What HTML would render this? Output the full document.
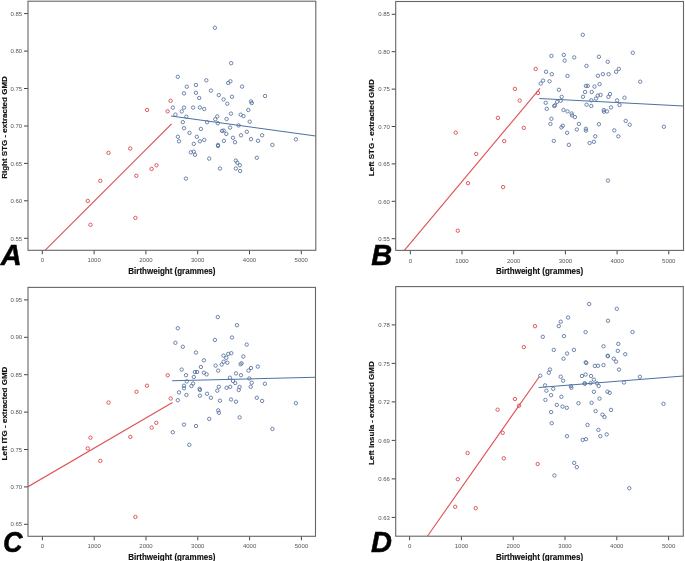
<!DOCTYPE html>
<html><head><meta charset="utf-8"><title>Birthweight vs GMD</title>
<style>
html,body{margin:0;padding:0;background:#fff;}
body{width:685px;height:561px;overflow:hidden;}
svg{display:block;will-change:transform;}
text{font-family:"Liberation Sans",sans-serif;}
.tl{font-size:6px;fill:#555;}
.ti{font-size:8px;font-weight:bold;fill:#111;stroke:#111;stroke-width:0.15;}
.lt{font-size:29px;font-weight:bold;font-style:italic;fill:#000;stroke:#000;stroke-width:0.5;}
.fr{fill:none;stroke:#666;stroke-width:1.1;}
.tk{stroke:#444;stroke-width:1;}
.rp{fill:none;stroke:#d94a4e;stroke-width:0.9;}
.bp{fill:none;stroke:#55709e;stroke-width:0.85;}
.rl{stroke:#df5052;stroke-width:1.1;fill:none;}
.bl{stroke:#4c72a2;stroke-width:1.05;fill:none;}
</style></head><body>
<svg width="685" height="561" viewBox="0 0 685 561">
<rect width="685" height="561" fill="#fff"/>

<g id="pA">
<clipPath id="cA"><rect x="28.0" y="1.2" width="287.8" height="249.10000000000002"/></clipPath>
<line class="tk" x1="24.0" y1="13.6" x2="28.0" y2="13.6"/>
<text class="tl" x="22.2" y="15.8" text-anchor="end">0.85</text>
<line class="tk" x1="24.0" y1="51.1" x2="28.0" y2="51.1"/>
<text class="tl" x="22.2" y="53.2" text-anchor="end">0.80</text>
<line class="tk" x1="24.0" y1="88.5" x2="28.0" y2="88.5"/>
<text class="tl" x="22.2" y="90.7" text-anchor="end">0.75</text>
<line class="tk" x1="24.0" y1="126.0" x2="28.0" y2="126.0"/>
<text class="tl" x="22.2" y="128.1" text-anchor="end">0.70</text>
<line class="tk" x1="24.0" y1="163.4" x2="28.0" y2="163.4"/>
<text class="tl" x="22.2" y="165.6" text-anchor="end">0.65</text>
<line class="tk" x1="24.0" y1="200.8" x2="28.0" y2="200.8"/>
<text class="tl" x="22.2" y="203.0" text-anchor="end">0.60</text>
<line class="tk" x1="24.0" y1="238.3" x2="28.0" y2="238.3"/>
<text class="tl" x="22.2" y="240.5" text-anchor="end">0.55</text>
<line class="tk" x1="42.3" y1="250.3" x2="42.3" y2="254.3"/>
<text class="tl" x="42.3" y="262.4" text-anchor="middle">0</text>
<line class="tk" x1="94.1" y1="250.3" x2="94.1" y2="254.3"/>
<text class="tl" x="94.1" y="262.4" text-anchor="middle">1000</text>
<line class="tk" x1="145.9" y1="250.3" x2="145.9" y2="254.3"/>
<text class="tl" x="145.9" y="262.4" text-anchor="middle">2000</text>
<line class="tk" x1="197.7" y1="250.3" x2="197.7" y2="254.3"/>
<text class="tl" x="197.7" y="262.4" text-anchor="middle">3000</text>
<line class="tk" x1="249.5" y1="250.3" x2="249.5" y2="254.3"/>
<text class="tl" x="249.5" y="262.4" text-anchor="middle">4000</text>
<line class="tk" x1="301.3" y1="250.3" x2="301.3" y2="254.3"/>
<text class="tl" x="301.3" y="262.4" text-anchor="middle">5000</text>
<g clip-path="url(#cA)">
<line class="rl" x1="45.0" y1="250.3" x2="171.6" y2="123.8"/>
<line class="bl" x1="171.0" y1="116.1" x2="315.8" y2="136.1"/>
<circle class="rp" cx="147.1" cy="109.9" r="1.7"/>
<circle class="rp" cx="170.6" cy="100.8" r="1.7"/>
<circle class="rp" cx="167.6" cy="111.3" r="1.7"/>
<circle class="rp" cx="108.5" cy="152.8" r="1.7"/>
<circle class="rp" cx="130.2" cy="148.5" r="1.7"/>
<circle class="rp" cx="100.3" cy="180.8" r="1.7"/>
<circle class="rp" cx="87.8" cy="200.9" r="1.7"/>
<circle class="rp" cx="90.5" cy="224.8" r="1.7"/>
<circle class="rp" cx="136.3" cy="175.8" r="1.7"/>
<circle class="rp" cx="151.6" cy="168.9" r="1.7"/>
<circle class="rp" cx="156.5" cy="165.3" r="1.7"/>
<circle class="rp" cx="135.4" cy="217.9" r="1.7"/>
<circle class="bp" cx="214.9" cy="27.8" r="1.7"/>
<circle class="bp" cx="231.2" cy="63.2" r="1.7"/>
<circle class="bp" cx="177.8" cy="76.8" r="1.7"/>
<circle class="bp" cx="206.3" cy="80.3" r="1.7"/>
<circle class="bp" cx="230.4" cy="81.3" r="1.7"/>
<circle class="bp" cx="228.2" cy="83.0" r="1.7"/>
<circle class="bp" cx="186.8" cy="86.7" r="1.7"/>
<circle class="bp" cx="195.9" cy="85.0" r="1.7"/>
<circle class="bp" cx="210.9" cy="90.6" r="1.7"/>
<circle class="bp" cx="184.0" cy="93.4" r="1.7"/>
<circle class="bp" cx="195.9" cy="92.8" r="1.7"/>
<circle class="bp" cx="218.8" cy="95.1" r="1.7"/>
<circle class="bp" cx="232.0" cy="96.8" r="1.7"/>
<circle class="bp" cx="199.2" cy="98.0" r="1.7"/>
<circle class="bp" cx="223.6" cy="99.4" r="1.7"/>
<circle class="bp" cx="242.1" cy="86.6" r="1.7"/>
<circle class="bp" cx="265.1" cy="96.0" r="1.7"/>
<circle class="bp" cx="251.0" cy="101.4" r="1.7"/>
<circle class="bp" cx="251.8" cy="103.1" r="1.7"/>
<circle class="bp" cx="227.3" cy="103.7" r="1.7"/>
<circle class="bp" cx="172.8" cy="107.6" r="1.7"/>
<circle class="bp" cx="184.0" cy="107.6" r="1.7"/>
<circle class="bp" cx="181.7" cy="111.4" r="1.7"/>
<circle class="bp" cx="193.1" cy="107.6" r="1.7"/>
<circle class="bp" cx="199.9" cy="107.5" r="1.7"/>
<circle class="bp" cx="204.2" cy="109.0" r="1.7"/>
<circle class="bp" cx="230.9" cy="113.6" r="1.7"/>
<circle class="bp" cx="175.4" cy="114.6" r="1.7"/>
<circle class="bp" cx="186.3" cy="116.7" r="1.7"/>
<circle class="bp" cx="217.3" cy="116.4" r="1.7"/>
<circle class="bp" cx="215.3" cy="119.2" r="1.7"/>
<circle class="bp" cx="226.6" cy="119.0" r="1.7"/>
<circle class="bp" cx="182.8" cy="122.1" r="1.7"/>
<circle class="bp" cx="207.1" cy="122.2" r="1.7"/>
<circle class="bp" cx="217.8" cy="123.2" r="1.7"/>
<circle class="bp" cx="238.6" cy="125.4" r="1.7"/>
<circle class="bp" cx="240.7" cy="114.7" r="1.7"/>
<circle class="bp" cx="243.5" cy="116.1" r="1.7"/>
<circle class="bp" cx="248.3" cy="110.0" r="1.7"/>
<circle class="bp" cx="249.7" cy="121.7" r="1.7"/>
<circle class="bp" cx="184.0" cy="128.2" r="1.7"/>
<circle class="bp" cx="200.9" cy="128.9" r="1.7"/>
<circle class="bp" cx="230.1" cy="127.6" r="1.7"/>
<circle class="bp" cx="222.0" cy="130.9" r="1.7"/>
<circle class="bp" cx="223.7" cy="130.6" r="1.7"/>
<circle class="bp" cx="226.3" cy="133.9" r="1.7"/>
<circle class="bp" cx="189.5" cy="132.9" r="1.7"/>
<circle class="bp" cx="177.9" cy="136.8" r="1.7"/>
<circle class="bp" cx="179.0" cy="141.3" r="1.7"/>
<circle class="bp" cx="196.8" cy="136.8" r="1.7"/>
<circle class="bp" cx="199.9" cy="141.3" r="1.7"/>
<circle class="bp" cx="204.2" cy="139.9" r="1.7"/>
<circle class="bp" cx="193.8" cy="143.9" r="1.7"/>
<circle class="bp" cx="223.9" cy="140.9" r="1.7"/>
<circle class="bp" cx="233.0" cy="137.8" r="1.7"/>
<circle class="bp" cx="235.0" cy="142.2" r="1.7"/>
<circle class="bp" cx="218.0" cy="144.9" r="1.7"/>
<circle class="bp" cx="218.0" cy="146.0" r="1.7"/>
<circle class="bp" cx="241.0" cy="135.3" r="1.7"/>
<circle class="bp" cx="246.8" cy="131.8" r="1.7"/>
<circle class="bp" cx="251.0" cy="139.2" r="1.7"/>
<circle class="bp" cx="258.0" cy="140.8" r="1.7"/>
<circle class="bp" cx="262.1" cy="135.3" r="1.7"/>
<circle class="bp" cx="272.4" cy="144.9" r="1.7"/>
<circle class="bp" cx="295.9" cy="139.3" r="1.7"/>
<circle class="bp" cx="190.8" cy="152.3" r="1.7"/>
<circle class="bp" cx="193.8" cy="151.7" r="1.7"/>
<circle class="bp" cx="195.0" cy="154.8" r="1.7"/>
<circle class="bp" cx="209.2" cy="158.6" r="1.7"/>
<circle class="bp" cx="256.8" cy="157.8" r="1.7"/>
<circle class="bp" cx="235.8" cy="160.6" r="1.7"/>
<circle class="bp" cx="237.3" cy="162.7" r="1.7"/>
<circle class="bp" cx="239.8" cy="165.3" r="1.7"/>
<circle class="bp" cx="219.9" cy="168.5" r="1.7"/>
<circle class="bp" cx="235.8" cy="168.5" r="1.7"/>
<circle class="bp" cx="240.1" cy="171.0" r="1.7"/>
<circle class="bp" cx="185.9" cy="178.6" r="1.7"/>
</g>
<rect class="fr" x="28.0" y="1.2" width="287.8" height="249.1"/>
<text class="ti" x="128.3" y="273.8" style="font-size:8.8px" textLength="87.2" lengthAdjust="spacingAndGlyphs">Birthweight (grammes)</text>
<text class="ti" transform="translate(6.7,127.5) rotate(-90)" x="0" y="0" text-anchor="middle">Right STG - extracted GMD</text>
<text class="lt" x="0.8" y="265.0">A</text>
</g>
<g id="pB">
<clipPath id="cB"><rect x="395.7" y="1.5" width="287.8" height="248.9"/></clipPath>
<line class="tk" x1="391.7" y1="14.3" x2="395.7" y2="14.3"/>
<text class="tl" x="389.9" y="16.4" text-anchor="end">0.85</text>
<line class="tk" x1="391.7" y1="51.7" x2="395.7" y2="51.7"/>
<text class="tl" x="389.9" y="53.9" text-anchor="end">0.80</text>
<line class="tk" x1="391.7" y1="89.1" x2="395.7" y2="89.1"/>
<text class="tl" x="389.9" y="91.2" text-anchor="end">0.75</text>
<line class="tk" x1="391.7" y1="126.5" x2="395.7" y2="126.5"/>
<text class="tl" x="389.9" y="128.6" text-anchor="end">0.70</text>
<line class="tk" x1="391.7" y1="163.9" x2="395.7" y2="163.9"/>
<text class="tl" x="389.9" y="166.1" text-anchor="end">0.65</text>
<line class="tk" x1="391.7" y1="201.3" x2="395.7" y2="201.3"/>
<text class="tl" x="389.9" y="203.5" text-anchor="end">0.60</text>
<line class="tk" x1="391.7" y1="238.7" x2="395.7" y2="238.7"/>
<text class="tl" x="389.9" y="240.8" text-anchor="end">0.55</text>
<line class="tk" x1="410.3" y1="250.4" x2="410.3" y2="254.4"/>
<text class="tl" x="410.3" y="262.5" text-anchor="middle">0</text>
<line class="tk" x1="462.0" y1="250.4" x2="462.0" y2="254.4"/>
<text class="tl" x="462.0" y="262.5" text-anchor="middle">1000</text>
<line class="tk" x1="513.7" y1="250.4" x2="513.7" y2="254.4"/>
<text class="tl" x="513.7" y="262.5" text-anchor="middle">2000</text>
<line class="tk" x1="565.4" y1="250.4" x2="565.4" y2="254.4"/>
<text class="tl" x="565.4" y="262.5" text-anchor="middle">3000</text>
<line class="tk" x1="617.1" y1="250.4" x2="617.1" y2="254.4"/>
<text class="tl" x="617.1" y="262.5" text-anchor="middle">4000</text>
<line class="tk" x1="668.8" y1="250.4" x2="668.8" y2="254.4"/>
<text class="tl" x="668.8" y="262.5" text-anchor="middle">5000</text>
<g clip-path="url(#cB)">
<line class="rl" x1="404.4" y1="250.4" x2="540.0" y2="88.3"/>
<line class="bl" x1="539.3" y1="98.5" x2="683.5" y2="105.9"/>
<circle class="rp" cx="535.7" cy="68.9" r="1.7"/>
<circle class="rp" cx="514.9" cy="88.9" r="1.7"/>
<circle class="rp" cx="519.7" cy="100.5" r="1.7"/>
<circle class="rp" cx="538.0" cy="93.0" r="1.7"/>
<circle class="rp" cx="497.9" cy="117.9" r="1.7"/>
<circle class="rp" cx="523.8" cy="127.9" r="1.7"/>
<circle class="rp" cx="455.7" cy="132.7" r="1.7"/>
<circle class="rp" cx="504.2" cy="141.1" r="1.7"/>
<circle class="rp" cx="476.2" cy="153.9" r="1.7"/>
<circle class="rp" cx="468.0" cy="183.2" r="1.7"/>
<circle class="rp" cx="503.1" cy="187.1" r="1.7"/>
<circle class="rp" cx="457.8" cy="230.7" r="1.7"/>
<circle class="bp" cx="582.8" cy="34.8" r="1.7"/>
<circle class="bp" cx="551.4" cy="55.9" r="1.7"/>
<circle class="bp" cx="563.8" cy="54.9" r="1.7"/>
<circle class="bp" cx="564.7" cy="60.6" r="1.7"/>
<circle class="bp" cx="574.2" cy="57.4" r="1.7"/>
<circle class="bp" cx="598.9" cy="56.8" r="1.7"/>
<circle class="bp" cx="607.7" cy="61.8" r="1.7"/>
<circle class="bp" cx="586.5" cy="65.9" r="1.7"/>
<circle class="bp" cx="546.0" cy="71.8" r="1.7"/>
<circle class="bp" cx="551.8" cy="74.2" r="1.7"/>
<circle class="bp" cx="567.5" cy="75.9" r="1.7"/>
<circle class="bp" cx="543.1" cy="80.6" r="1.7"/>
<circle class="bp" cx="540.7" cy="83.5" r="1.7"/>
<circle class="bp" cx="549.5" cy="81.3" r="1.7"/>
<circle class="bp" cx="558.9" cy="89.8" r="1.7"/>
<circle class="bp" cx="561.7" cy="96.8" r="1.7"/>
<circle class="bp" cx="597.9" cy="75.8" r="1.7"/>
<circle class="bp" cx="602.9" cy="74.2" r="1.7"/>
<circle class="bp" cx="608.6" cy="74.2" r="1.7"/>
<circle class="bp" cx="585.9" cy="85.9" r="1.7"/>
<circle class="bp" cx="587.8" cy="85.9" r="1.7"/>
<circle class="bp" cx="594.5" cy="86.6" r="1.7"/>
<circle class="bp" cx="599.6" cy="84.2" r="1.7"/>
<circle class="bp" cx="585.1" cy="92.0" r="1.7"/>
<circle class="bp" cx="591.7" cy="92.0" r="1.7"/>
<circle class="bp" cx="583.0" cy="96.8" r="1.7"/>
<circle class="bp" cx="597.8" cy="95.6" r="1.7"/>
<circle class="bp" cx="600.6" cy="94.9" r="1.7"/>
<circle class="bp" cx="610.0" cy="94.1" r="1.7"/>
<circle class="bp" cx="608.4" cy="96.8" r="1.7"/>
<circle class="bp" cx="596.0" cy="98.6" r="1.7"/>
<circle class="bp" cx="591.3" cy="100.3" r="1.7"/>
<circle class="bp" cx="632.8" cy="52.8" r="1.7"/>
<circle class="bp" cx="618.8" cy="68.9" r="1.7"/>
<circle class="bp" cx="616.1" cy="71.8" r="1.7"/>
<circle class="bp" cx="640.2" cy="81.7" r="1.7"/>
<circle class="bp" cx="624.5" cy="97.7" r="1.7"/>
<circle class="bp" cx="617.1" cy="100.4" r="1.7"/>
<circle class="bp" cx="619.5" cy="105.0" r="1.7"/>
<circle class="bp" cx="611.0" cy="107.4" r="1.7"/>
<circle class="bp" cx="545.7" cy="102.8" r="1.7"/>
<circle class="bp" cx="557.1" cy="101.8" r="1.7"/>
<circle class="bp" cx="560.7" cy="100.7" r="1.7"/>
<circle class="bp" cx="554.2" cy="106.0" r="1.7"/>
<circle class="bp" cx="555.0" cy="105.3" r="1.7"/>
<circle class="bp" cx="546.8" cy="108.8" r="1.7"/>
<circle class="bp" cx="586.6" cy="104.7" r="1.7"/>
<circle class="bp" cx="591.3" cy="106.0" r="1.7"/>
<circle class="bp" cx="563.5" cy="110.0" r="1.7"/>
<circle class="bp" cx="567.5" cy="111.4" r="1.7"/>
<circle class="bp" cx="571.6" cy="113.5" r="1.7"/>
<circle class="bp" cx="572.1" cy="115.4" r="1.7"/>
<circle class="bp" cx="574.9" cy="117.1" r="1.7"/>
<circle class="bp" cx="603.8" cy="110.0" r="1.7"/>
<circle class="bp" cx="604.0" cy="111.7" r="1.7"/>
<circle class="bp" cx="607.0" cy="111.4" r="1.7"/>
<circle class="bp" cx="551.4" cy="118.8" r="1.7"/>
<circle class="bp" cx="550.4" cy="123.9" r="1.7"/>
<circle class="bp" cx="561.4" cy="127.4" r="1.7"/>
<circle class="bp" cx="562.8" cy="125.7" r="1.7"/>
<circle class="bp" cx="578.9" cy="123.9" r="1.7"/>
<circle class="bp" cx="576.8" cy="129.5" r="1.7"/>
<circle class="bp" cx="585.9" cy="128.8" r="1.7"/>
<circle class="bp" cx="585.9" cy="130.6" r="1.7"/>
<circle class="bp" cx="598.9" cy="124.2" r="1.7"/>
<circle class="bp" cx="567.1" cy="132.8" r="1.7"/>
<circle class="bp" cx="595.2" cy="136.3" r="1.7"/>
<circle class="bp" cx="593.9" cy="141.8" r="1.7"/>
<circle class="bp" cx="589.6" cy="143.0" r="1.7"/>
<circle class="bp" cx="553.8" cy="140.9" r="1.7"/>
<circle class="bp" cx="568.8" cy="144.9" r="1.7"/>
<circle class="bp" cx="625.7" cy="120.9" r="1.7"/>
<circle class="bp" cx="629.7" cy="124.7" r="1.7"/>
<circle class="bp" cx="614.3" cy="130.4" r="1.7"/>
<circle class="bp" cx="618.3" cy="136.3" r="1.7"/>
<circle class="bp" cx="663.9" cy="126.8" r="1.7"/>
<circle class="bp" cx="608.0" cy="180.5" r="1.7"/>
</g>
<rect class="fr" x="395.7" y="1.5" width="287.8" height="248.9"/>
<text class="ti" x="496.0" y="273.9" style="font-size:8.8px" textLength="87.2" lengthAdjust="spacingAndGlyphs">Birthweight (grammes)</text>
<text class="ti" transform="translate(374.4,127.7) rotate(-90)" x="0" y="0" text-anchor="middle">Left STG - extracted GMD</text>
<text class="lt" x="371.2" y="264.8">B</text>
</g>
<g id="pC">
<clipPath id="cC"><rect x="28.0" y="287.4" width="287.5" height="248.89999999999998"/></clipPath>
<line class="tk" x1="24.0" y1="299.9" x2="28.0" y2="299.9"/>
<text class="tl" x="22.2" y="302.0" text-anchor="end">0.95</text>
<line class="tk" x1="24.0" y1="337.3" x2="28.0" y2="337.3"/>
<text class="tl" x="22.2" y="339.4" text-anchor="end">0.90</text>
<line class="tk" x1="24.0" y1="374.7" x2="28.0" y2="374.7"/>
<text class="tl" x="22.2" y="376.8" text-anchor="end">0.85</text>
<line class="tk" x1="24.0" y1="412.1" x2="28.0" y2="412.1"/>
<text class="tl" x="22.2" y="414.2" text-anchor="end">0.80</text>
<line class="tk" x1="24.0" y1="449.5" x2="28.0" y2="449.5"/>
<text class="tl" x="22.2" y="451.6" text-anchor="end">0.75</text>
<line class="tk" x1="24.0" y1="486.9" x2="28.0" y2="486.9"/>
<text class="tl" x="22.2" y="489.0" text-anchor="end">0.70</text>
<line class="tk" x1="24.0" y1="524.3" x2="28.0" y2="524.3"/>
<text class="tl" x="22.2" y="526.4" text-anchor="end">0.65</text>
<line class="tk" x1="42.4" y1="536.3" x2="42.4" y2="540.3"/>
<text class="tl" x="42.4" y="548.2" text-anchor="middle">0</text>
<line class="tk" x1="94.2" y1="536.3" x2="94.2" y2="540.3"/>
<text class="tl" x="94.2" y="548.2" text-anchor="middle">1000</text>
<line class="tk" x1="146.0" y1="536.3" x2="146.0" y2="540.3"/>
<text class="tl" x="146.0" y="548.2" text-anchor="middle">2000</text>
<line class="tk" x1="197.8" y1="536.3" x2="197.8" y2="540.3"/>
<text class="tl" x="197.8" y="548.2" text-anchor="middle">3000</text>
<line class="tk" x1="249.6" y1="536.3" x2="249.6" y2="540.3"/>
<text class="tl" x="249.6" y="548.2" text-anchor="middle">4000</text>
<line class="tk" x1="301.4" y1="536.3" x2="301.4" y2="540.3"/>
<text class="tl" x="301.4" y="548.2" text-anchor="middle">5000</text>
<g clip-path="url(#cC)">
<line class="rl" x1="28.0" y1="486.7" x2="172.5" y2="402.4"/>
<line class="bl" x1="172.1" y1="380.7" x2="315.5" y2="377.2"/>
<circle class="rp" cx="167.7" cy="375.3" r="1.7"/>
<circle class="rp" cx="147.0" cy="385.7" r="1.7"/>
<circle class="rp" cx="136.5" cy="391.8" r="1.7"/>
<circle class="rp" cx="108.5" cy="402.6" r="1.7"/>
<circle class="rp" cx="170.7" cy="398.5" r="1.7"/>
<circle class="rp" cx="90.5" cy="437.7" r="1.7"/>
<circle class="rp" cx="87.8" cy="448.4" r="1.7"/>
<circle class="rp" cx="100.3" cy="460.9" r="1.7"/>
<circle class="rp" cx="130.3" cy="436.9" r="1.7"/>
<circle class="rp" cx="151.7" cy="427.6" r="1.7"/>
<circle class="rp" cx="156.3" cy="422.8" r="1.7"/>
<circle class="rp" cx="135.4" cy="517.0" r="1.7"/>
<circle class="bp" cx="217.8" cy="317.1" r="1.7"/>
<circle class="bp" cx="237.0" cy="325.2" r="1.7"/>
<circle class="bp" cx="177.8" cy="328.2" r="1.7"/>
<circle class="bp" cx="232.0" cy="337.5" r="1.7"/>
<circle class="bp" cx="214.9" cy="339.9" r="1.7"/>
<circle class="bp" cx="175.4" cy="342.8" r="1.7"/>
<circle class="bp" cx="182.8" cy="346.8" r="1.7"/>
<circle class="bp" cx="195.9" cy="352.5" r="1.7"/>
<circle class="bp" cx="223.5" cy="355.6" r="1.7"/>
<circle class="bp" cx="228.2" cy="353.9" r="1.7"/>
<circle class="bp" cx="231.3" cy="353.2" r="1.7"/>
<circle class="bp" cx="226.3" cy="357.8" r="1.7"/>
<circle class="bp" cx="203.9" cy="360.3" r="1.7"/>
<circle class="bp" cx="223.7" cy="361.7" r="1.7"/>
<circle class="bp" cx="227.3" cy="362.7" r="1.7"/>
<circle class="bp" cx="221.7" cy="364.5" r="1.7"/>
<circle class="bp" cx="200.9" cy="367.0" r="1.7"/>
<circle class="bp" cx="215.6" cy="365.6" r="1.7"/>
<circle class="bp" cx="218.2" cy="370.6" r="1.7"/>
<circle class="bp" cx="181.7" cy="369.6" r="1.7"/>
<circle class="bp" cx="194.9" cy="372.0" r="1.7"/>
<circle class="bp" cx="197.1" cy="372.0" r="1.7"/>
<circle class="bp" cx="203.9" cy="372.7" r="1.7"/>
<circle class="bp" cx="206.6" cy="374.4" r="1.7"/>
<circle class="bp" cx="186.0" cy="375.2" r="1.7"/>
<circle class="bp" cx="193.8" cy="377.0" r="1.7"/>
<circle class="bp" cx="236.0" cy="373.4" r="1.7"/>
<circle class="bp" cx="229.9" cy="377.7" r="1.7"/>
<circle class="bp" cx="246.7" cy="344.6" r="1.7"/>
<circle class="bp" cx="243.3" cy="356.5" r="1.7"/>
<circle class="bp" cx="240.6" cy="364.3" r="1.7"/>
<circle class="bp" cx="241.6" cy="363.3" r="1.7"/>
<circle class="bp" cx="251.0" cy="368.0" r="1.7"/>
<circle class="bp" cx="248.5" cy="370.6" r="1.7"/>
<circle class="bp" cx="257.8" cy="366.6" r="1.7"/>
<circle class="bp" cx="241.0" cy="375.2" r="1.7"/>
<circle class="bp" cx="249.3" cy="378.5" r="1.7"/>
<circle class="bp" cx="233.0" cy="381.0" r="1.7"/>
<circle class="bp" cx="235.2" cy="383.1" r="1.7"/>
<circle class="bp" cx="186.8" cy="381.4" r="1.7"/>
<circle class="bp" cx="193.1" cy="383.5" r="1.7"/>
<circle class="bp" cx="191.4" cy="386.0" r="1.7"/>
<circle class="bp" cx="184.0" cy="385.7" r="1.7"/>
<circle class="bp" cx="184.0" cy="388.3" r="1.7"/>
<circle class="bp" cx="179.0" cy="392.4" r="1.7"/>
<circle class="bp" cx="199.6" cy="388.8" r="1.7"/>
<circle class="bp" cx="199.9" cy="390.0" r="1.7"/>
<circle class="bp" cx="218.8" cy="386.8" r="1.7"/>
<circle class="bp" cx="217.3" cy="390.7" r="1.7"/>
<circle class="bp" cx="226.6" cy="387.8" r="1.7"/>
<circle class="bp" cx="230.2" cy="386.8" r="1.7"/>
<circle class="bp" cx="239.5" cy="387.0" r="1.7"/>
<circle class="bp" cx="238.7" cy="390.0" r="1.7"/>
<circle class="bp" cx="186.4" cy="395.0" r="1.7"/>
<circle class="bp" cx="199.9" cy="395.7" r="1.7"/>
<circle class="bp" cx="207.1" cy="393.8" r="1.7"/>
<circle class="bp" cx="210.9" cy="397.8" r="1.7"/>
<circle class="bp" cx="177.8" cy="400.2" r="1.7"/>
<circle class="bp" cx="219.9" cy="400.7" r="1.7"/>
<circle class="bp" cx="231.0" cy="399.5" r="1.7"/>
<circle class="bp" cx="236.0" cy="401.7" r="1.7"/>
<circle class="bp" cx="218.2" cy="410.4" r="1.7"/>
<circle class="bp" cx="218.9" cy="412.8" r="1.7"/>
<circle class="bp" cx="239.6" cy="417.4" r="1.7"/>
<circle class="bp" cx="209.2" cy="418.9" r="1.7"/>
<circle class="bp" cx="184.0" cy="424.6" r="1.7"/>
<circle class="bp" cx="196.0" cy="426.0" r="1.7"/>
<circle class="bp" cx="172.8" cy="432.2" r="1.7"/>
<circle class="bp" cx="189.3" cy="444.8" r="1.7"/>
<circle class="bp" cx="251.7" cy="382.8" r="1.7"/>
<circle class="bp" cx="250.7" cy="386.8" r="1.7"/>
<circle class="bp" cx="264.9" cy="383.8" r="1.7"/>
<circle class="bp" cx="256.8" cy="397.8" r="1.7"/>
<circle class="bp" cx="262.1" cy="400.9" r="1.7"/>
<circle class="bp" cx="295.9" cy="403.2" r="1.7"/>
<circle class="bp" cx="272.4" cy="428.9" r="1.7"/>
</g>
<rect class="fr" x="28.0" y="287.4" width="287.5" height="248.9"/>
<text class="ti" x="128.2" y="559.8" style="font-size:8.8px" textLength="87.2" lengthAdjust="spacingAndGlyphs">Birthweight (grammes)</text>
<text class="ti" transform="translate(6.7,413.5) rotate(-90)" x="0" y="0" text-anchor="middle">Left ITG - extracted GMD</text>
<text class="lt" transform="translate(3.0,551.9) scale(0.9,1)" x="0" y="0" style="font-size:30px">C</text>
</g>
<g id="pD">
<clipPath id="cD"><rect x="395.7" y="286.6" width="287.59999999999997" height="249.60000000000002"/></clipPath>
<line class="tk" x1="391.7" y1="324.9" x2="395.7" y2="324.9"/>
<text class="tl" x="389.9" y="327.0" text-anchor="end">0.78</text>
<line class="tk" x1="391.7" y1="363.4" x2="395.7" y2="363.4"/>
<text class="tl" x="389.9" y="365.5" text-anchor="end">0.75</text>
<line class="tk" x1="391.7" y1="401.9" x2="395.7" y2="401.9"/>
<text class="tl" x="389.9" y="404.0" text-anchor="end">0.72</text>
<line class="tk" x1="391.7" y1="440.4" x2="395.7" y2="440.4"/>
<text class="tl" x="389.9" y="442.5" text-anchor="end">0.69</text>
<line class="tk" x1="391.7" y1="478.9" x2="395.7" y2="478.9"/>
<text class="tl" x="389.9" y="481.0" text-anchor="end">0.66</text>
<line class="tk" x1="391.7" y1="517.4" x2="395.7" y2="517.4"/>
<text class="tl" x="389.9" y="519.5" text-anchor="end">0.63</text>
<line class="tk" x1="409.6" y1="536.2" x2="409.6" y2="540.2"/>
<text class="tl" x="409.6" y="547.8" text-anchor="middle">0</text>
<line class="tk" x1="461.4" y1="536.2" x2="461.4" y2="540.2"/>
<text class="tl" x="461.4" y="547.8" text-anchor="middle">1000</text>
<line class="tk" x1="513.2" y1="536.2" x2="513.2" y2="540.2"/>
<text class="tl" x="513.2" y="547.8" text-anchor="middle">2000</text>
<line class="tk" x1="565.0" y1="536.2" x2="565.0" y2="540.2"/>
<text class="tl" x="565.0" y="547.8" text-anchor="middle">3000</text>
<line class="tk" x1="616.8" y1="536.2" x2="616.8" y2="540.2"/>
<text class="tl" x="616.8" y="547.8" text-anchor="middle">4000</text>
<line class="tk" x1="668.6" y1="536.2" x2="668.6" y2="540.2"/>
<text class="tl" x="668.6" y="547.8" text-anchor="middle">5000</text>
<g clip-path="url(#cD)">
<line class="rl" x1="427.4" y1="536.2" x2="539.3" y2="376.7"/>
<line class="bl" x1="538.6" y1="387.4" x2="683.5" y2="376.1"/>
<circle class="rp" cx="535.0" cy="326.2" r="1.7"/>
<circle class="rp" cx="523.8" cy="347.1" r="1.7"/>
<circle class="rp" cx="514.9" cy="399.0" r="1.7"/>
<circle class="rp" cx="519.0" cy="405.7" r="1.7"/>
<circle class="rp" cx="497.6" cy="409.7" r="1.7"/>
<circle class="rp" cx="502.7" cy="432.8" r="1.7"/>
<circle class="rp" cx="467.6" cy="453.0" r="1.7"/>
<circle class="rp" cx="503.8" cy="458.3" r="1.7"/>
<circle class="rp" cx="537.7" cy="464.0" r="1.7"/>
<circle class="rp" cx="457.8" cy="479.2" r="1.7"/>
<circle class="rp" cx="455.2" cy="506.8" r="1.7"/>
<circle class="rp" cx="475.7" cy="508.2" r="1.7"/>
<circle class="bp" cx="589.2" cy="304.0" r="1.7"/>
<circle class="bp" cx="568.1" cy="317.5" r="1.7"/>
<circle class="bp" cx="608.0" cy="320.8" r="1.7"/>
<circle class="bp" cx="560.7" cy="321.7" r="1.7"/>
<circle class="bp" cx="558.8" cy="326.1" r="1.7"/>
<circle class="bp" cx="585.6" cy="332.1" r="1.7"/>
<circle class="bp" cx="542.8" cy="336.8" r="1.7"/>
<circle class="bp" cx="563.9" cy="336.1" r="1.7"/>
<circle class="bp" cx="603.5" cy="346.3" r="1.7"/>
<circle class="bp" cx="553.8" cy="349.9" r="1.7"/>
<circle class="bp" cx="573.9" cy="349.9" r="1.7"/>
<circle class="bp" cx="567.1" cy="353.5" r="1.7"/>
<circle class="bp" cx="607.7" cy="355.7" r="1.7"/>
<circle class="bp" cx="607.9" cy="356.2" r="1.7"/>
<circle class="bp" cx="563.5" cy="358.7" r="1.7"/>
<circle class="bp" cx="585.7" cy="362.3" r="1.7"/>
<circle class="bp" cx="586.3" cy="363.0" r="1.7"/>
<circle class="bp" cx="594.9" cy="365.9" r="1.7"/>
<circle class="bp" cx="598.0" cy="365.8" r="1.7"/>
<circle class="bp" cx="603.5" cy="365.1" r="1.7"/>
<circle class="bp" cx="550.0" cy="369.5" r="1.7"/>
<circle class="bp" cx="548.8" cy="372.7" r="1.7"/>
<circle class="bp" cx="616.8" cy="308.8" r="1.7"/>
<circle class="bp" cx="632.5" cy="332.1" r="1.7"/>
<circle class="bp" cx="618.3" cy="343.9" r="1.7"/>
<circle class="bp" cx="617.8" cy="350.9" r="1.7"/>
<circle class="bp" cx="625.2" cy="354.2" r="1.7"/>
<circle class="bp" cx="613.8" cy="358.7" r="1.7"/>
<circle class="bp" cx="616.0" cy="361.6" r="1.7"/>
<circle class="bp" cx="619.0" cy="369.6" r="1.7"/>
<circle class="bp" cx="540.3" cy="375.7" r="1.7"/>
<circle class="bp" cx="560.7" cy="376.7" r="1.7"/>
<circle class="bp" cx="563.1" cy="380.7" r="1.7"/>
<circle class="bp" cx="582.0" cy="376.0" r="1.7"/>
<circle class="bp" cx="585.6" cy="374.5" r="1.7"/>
<circle class="bp" cx="591.0" cy="376.0" r="1.7"/>
<circle class="bp" cx="593.9" cy="379.7" r="1.7"/>
<circle class="bp" cx="545.0" cy="385.4" r="1.7"/>
<circle class="bp" cx="546.4" cy="390.7" r="1.7"/>
<circle class="bp" cx="553.2" cy="388.8" r="1.7"/>
<circle class="bp" cx="570.9" cy="386.1" r="1.7"/>
<circle class="bp" cx="571.4" cy="387.8" r="1.7"/>
<circle class="bp" cx="584.6" cy="383.3" r="1.7"/>
<circle class="bp" cx="584.9" cy="383.7" r="1.7"/>
<circle class="bp" cx="590.6" cy="383.1" r="1.7"/>
<circle class="bp" cx="597.0" cy="383.3" r="1.7"/>
<circle class="bp" cx="598.7" cy="386.0" r="1.7"/>
<circle class="bp" cx="593.9" cy="391.8" r="1.7"/>
<circle class="bp" cx="607.4" cy="391.7" r="1.7"/>
<circle class="bp" cx="609.7" cy="392.8" r="1.7"/>
<circle class="bp" cx="551.1" cy="395.2" r="1.7"/>
<circle class="bp" cx="561.4" cy="396.8" r="1.7"/>
<circle class="bp" cx="545.4" cy="399.9" r="1.7"/>
<circle class="bp" cx="599.5" cy="398.6" r="1.7"/>
<circle class="bp" cx="556.8" cy="404.9" r="1.7"/>
<circle class="bp" cx="562.5" cy="406.6" r="1.7"/>
<circle class="bp" cx="566.8" cy="407.8" r="1.7"/>
<circle class="bp" cx="578.5" cy="403.2" r="1.7"/>
<circle class="bp" cx="591.6" cy="402.8" r="1.7"/>
<circle class="bp" cx="551.1" cy="412.1" r="1.7"/>
<circle class="bp" cx="595.6" cy="411.1" r="1.7"/>
<circle class="bp" cx="602.5" cy="414.6" r="1.7"/>
<circle class="bp" cx="604.5" cy="417.0" r="1.7"/>
<circle class="bp" cx="611.0" cy="409.9" r="1.7"/>
<circle class="bp" cx="551.7" cy="423.2" r="1.7"/>
<circle class="bp" cx="587.5" cy="424.9" r="1.7"/>
<circle class="bp" cx="598.4" cy="429.9" r="1.7"/>
<circle class="bp" cx="606.7" cy="434.4" r="1.7"/>
<circle class="bp" cx="600.3" cy="436.2" r="1.7"/>
<circle class="bp" cx="567.0" cy="436.2" r="1.7"/>
<circle class="bp" cx="582.7" cy="439.9" r="1.7"/>
<circle class="bp" cx="586.0" cy="439.2" r="1.7"/>
<circle class="bp" cx="639.9" cy="376.8" r="1.7"/>
<circle class="bp" cx="624.0" cy="382.5" r="1.7"/>
<circle class="bp" cx="663.5" cy="403.8" r="1.7"/>
<circle class="bp" cx="574.2" cy="462.9" r="1.7"/>
<circle class="bp" cx="576.8" cy="467.1" r="1.7"/>
<circle class="bp" cx="554.4" cy="475.5" r="1.7"/>
<circle class="bp" cx="629.3" cy="488.2" r="1.7"/>
</g>
<rect class="fr" x="395.7" y="286.6" width="287.6" height="249.6"/>
<text class="ti" x="495.9" y="559.7" style="font-size:8.8px" textLength="87.2" lengthAdjust="spacingAndGlyphs">Birthweight (grammes)</text>
<text class="ti" transform="translate(374.4,413.1) rotate(-90)" x="0" y="0" text-anchor="middle">Left Insula - extracted GMD</text>
<text class="lt" x="371.1" y="552.0">D</text>
</g>
</svg>
</body></html>
